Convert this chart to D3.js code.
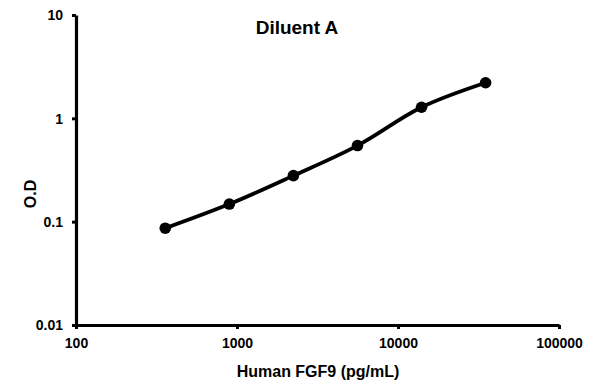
<!DOCTYPE html>
<html><head><meta charset="utf-8">
<script src="https://cdn.jsdelivr.net/npm/d3@7"></script>
<style>body{margin:0;background:#fff}svg{display:block}text{font-family:"Liberation Sans",Arial,sans-serif;font-weight:bold;fill:#000}</style>
</head><body><svg id="c" width="595" height="384"></svg>
<script>
const concentrations = [358.4, 896, 2240, 5600, 14000, 35000];
const odValues = [0.0865, 0.148, 0.279, 0.545, 1.28, 2.21];
const xTicks = [100, 1000, 10000, 100000];
const yTicks = [0.01, 0.1, 1, 10];
const title = "Diluent A";
const xLabel = "Human FGF9 (pg/mL)";
const yLabel = "O.D";

const svg = d3.select("#c");
const x = d3.scaleLog().domain([100, 100000]).range([76, 559]);
const y = d3.scaleLog().domain([0.01, 10]).range([325, 15]);

const xAxis = svg.append("g").attr("transform", "translate(0,325)")
  .call(d3.axisBottom(x).tickValues(xTicks).tickFormat(d3.format("d")).tickSize(4).tickSizeOuter(0));
const yAxis = svg.append("g").attr("transform", "translate(76,0)")
  .call(d3.axisLeft(y).tickValues(yTicks).tickFormat(d => String(d)).tickSize(4).tickSizeOuter(0));
[xAxis, yAxis].forEach(a => {
  a.select(".domain").attr("stroke", "#000").attr("stroke-width", 3.2);
  a.selectAll(".tick line").attr("stroke", "#000").attr("stroke-width", 3);
  a.selectAll(".tick text").style("font-size", "14px").style("font-weight", "bold").attr("fill", "#000");
});
xAxis.selectAll(".tick text").attr("dy", "0").attr("y", 23);
yAxis.selectAll(".tick text").attr("x", -13).attr("dy", "0.35em");

const pts = concentrations.map((c, i) => [x(c), y(odValues[i])]);
svg.append("path").attr("d", d3.line().curve(d3.curveCatmullRom.alpha(0.5))(pts))
  .attr("fill", "none").attr("stroke", "#000").attr("stroke-width", 3.8);
svg.selectAll("circle.p").data(pts).enter().append("circle")
  .attr("cx", d => d[0]).attr("cy", d => d[1]).attr("r", 5.8).attr("fill", "#000");

svg.append("text").attr("x", 297).attr("y", 34).attr("text-anchor", "middle").style("font-size", "19px").text(title);
svg.append("text").attr("x", 318).attr("y", 377).attr("text-anchor", "middle").style("font-size", "16px").text(xLabel);
svg.append("text").attr("transform", "translate(36,194) rotate(-90)").attr("text-anchor", "middle").style("font-size", "16px").text(yLabel);
</script></body></html>
